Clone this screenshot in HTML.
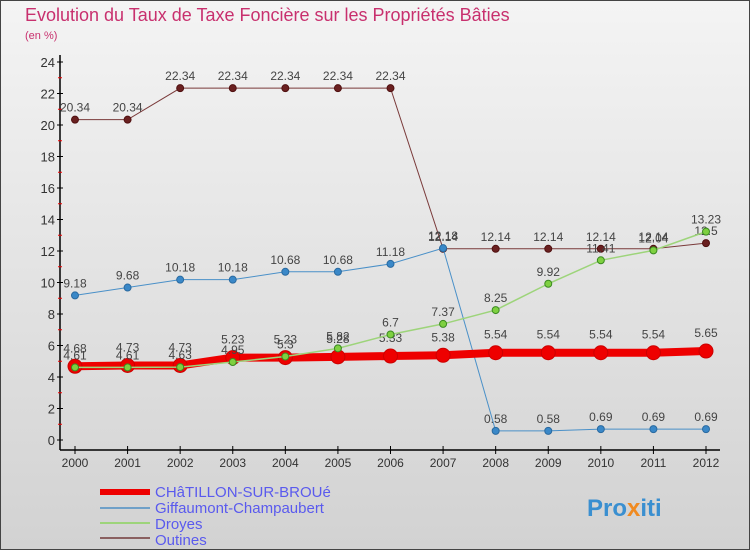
<!DOCTYPE html>
<html><head><meta charset="utf-8"><style>
body{margin:0;width:750px;height:550px;overflow:hidden;font-family:"Liberation Sans",sans-serif}
svg text{font-family:"Liberation Sans",sans-serif}
</style></head><body>
<svg id="c" width="750" height="550" xmlns="http://www.w3.org/2000/svg">
<defs><linearGradient id="bg" x1="0" y1="0" x2="0" y2="1"><stop offset="0" stop-color="#f4f4f4"/><stop offset="1" stop-color="#d2d2d2"/></linearGradient></defs>
<rect x="0.5" y="0.5" width="749" height="549" fill="url(#bg)" stroke="#444"/>
<text x="25" y="21" font-size="18" fill="#c8306e">Evolution du Taux de Taxe Foncière sur les Propriétés Bâties</text>
<text x="25" y="39" font-size="11" fill="#c8306e">(en %)</text>
<g id="axes"></g><g id="series"></g>
<g>
<rect x="100" y="489" width="50" height="6" fill="#e00"/>
<text x="155" y="497" font-size="15" fill="#5a5aee">CHâTILLON-SUR-BROUé</text>
<rect x="100" y="507" width="50" height="2" fill="#6fa0c8"/>
<text x="155" y="513" font-size="15" fill="#5a5aee">Giffaumont-Champaubert</text>
<rect x="100" y="522" width="50" height="2" fill="#9dd47a"/>
<text x="155" y="529" font-size="15" fill="#5a5aee">Droyes</text>
<rect x="100" y="537" width="50" height="2" fill="#8a6060"/>
<text x="155" y="545" font-size="15" fill="#5a5aee">Outines</text>
</g>
<text x="587" y="516" font-size="24" font-weight="bold" fill="#3a8fd0">Pro<tspan fill="#f08a20">x</tspan>iti</text>
</svg>
<script>
const years=[2000,2001,2002,2003,2004,2005,2006,2007,2008,2009,2010,2011,2012];
const yTicks=[0,2,4,6,8,10,12,14,16,18,20,22,24];
const chatillon=[4.68,4.73,4.73,5.23,5.23,5.28,5.33,5.38,5.54,5.54,5.54,5.54,5.65];
const giffaumont=[9.18,9.68,10.18,10.18,10.68,10.68,11.18,12.18,0.58,0.58,0.69,0.69,0.69];
const droyes=[4.61,4.61,4.63,4.95,5.3,5.82,6.7,7.37,8.25,9.92,11.41,12.04,13.23];
const outines=[20.34,20.34,22.34,22.34,22.34,22.34,22.34,12.14,12.14,12.14,12.14,12.14,12.5];
const NS="http://www.w3.org/2000/svg";
const X=i=>75+i*(706-75)/12, Y=v=>440-v*(440-62)/24;
function mk(t,a,p){const e=document.createElementNS(NS,t);for(const k in a)e.setAttribute(k,a[k]);p.appendChild(e);return e;}
const ax=document.getElementById('axes'), sg=document.getElementById('series');
let l=mk('line',{x1:60,y1:55,x2:60,y2:450,stroke:'#000','stroke-width':1.5},ax);


l=mk('line',{x1:60,y1:450,x2:720,y2:450,stroke:'#000','stroke-width':1.5},ax);


yTicks.forEach(v=>{mk('line',{x1:57,y1:Y(v),x2:63,y2:Y(v),stroke:'#000'},ax);
 if(v<24)mk('line',{x1:58,y1:Y(v+1),x2:62,y2:Y(v+1),stroke:'#e00'},ax);
 const t=mk('text',{x:55,y:Y(v)+5,'font-size':13,fill:'#333','text-anchor':'end'},ax);t.textContent=v;
 
 });
years.forEach((y,i)=>{mk('line',{x1:X(i),y1:446,x2:X(i),y2:454,stroke:'#000'},ax);
 const t=mk('text',{x:X(i),y:467,'font-size':12,fill:'#333','text-anchor':'middle'},ax);t.textContent=y;
 
 });
function series(d,name,col,w,r,dot,dotStroke,labelDy){
 const g=mk('g',{},sg);
 
 
 const p=mk('polyline',{points:d.map((v,i)=>X(i)+','+Y(v)).join(' '),fill:'none',stroke:col,'stroke-width':w},g);
 
 
 d.forEach((v,i)=>{const c=mk('circle',{cx:X(i),cy:Y(v),r:r,fill:dot,stroke:dotStroke,'stroke-width':1},g);
  
  
  const t=mk('text',{x:X(i),y:Y(v)+labelDy,'font-size':12,fill:'#444','text-anchor':'middle'},g);t.textContent=v;
  
  });
}
series(outines,'outines','#7a3a3a',1,3.5,'#6a2020','#501010',-8);
series(giffaumont,'giffaumont','#4a90c8',1,3.5,'#3a88c8','#2a6aa0',-8);
series(chatillon,'chatillon','#e00',8,7,'#e00','#c00',-14);
series(droyes,'droyes','#9dd47a',1.5,3.5,'#7ed040','#3a8a20',-8);
</script>
</body></html>
